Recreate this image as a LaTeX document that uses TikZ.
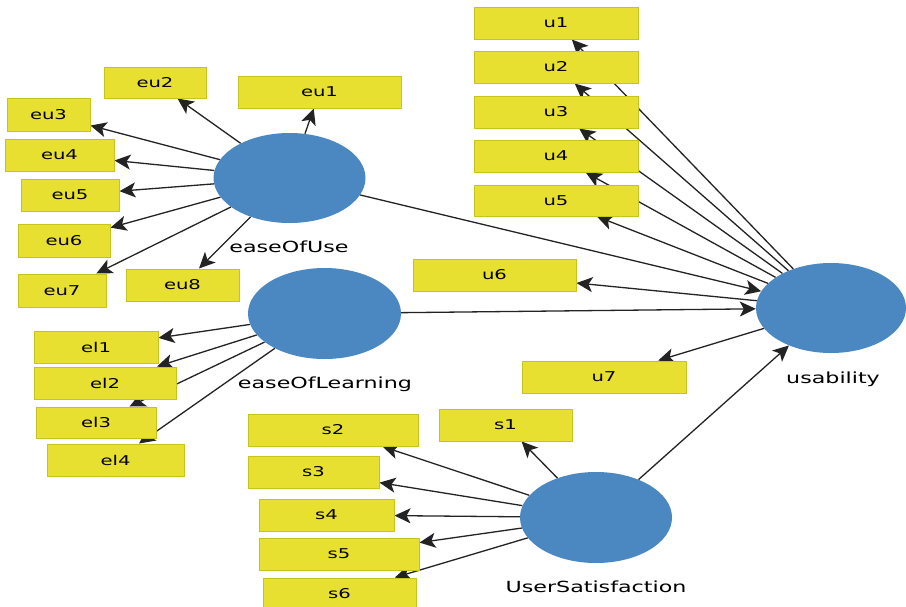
\documentclass[tikz,border=0pt]{standalone}
\usepackage{fontspec}
\usetikzlibrary{arrows.meta,shapes.geometric,backgrounds}
\newfontfamily\lblfont[FakeStretch=1.45]{DejaVu Sans}
\definecolor{boxfill}{RGB}{232,224,48}
\definecolor{boxline}{RGB}{200,196,30}
\definecolor{latfill}{RGB}{75,135,192}
\definecolor{linkcol}{RGB}{35,35,35}
\tikzset{
  ind/.style={rectangle, fill=boxfill, draw=boxline, line width=1pt,
    inner sep=0pt, minimum height=32pt,
    font=\lblfont\fontsize{13.5}{16}\selectfont, text=black},
  latent/.style={ellipse, fill=latfill, draw=none, inner sep=0pt},
  latlabel/.style={anchor=base, inner sep=0pt,
    font=\lblfont\fontsize{15.3}{18}\selectfont, text=black},
  link/.style={draw=linkcol, line width=1.3pt,
    -{Stealth[length=16pt,width=15pt,inset=4pt]}},
}
\begin{document}
\begin{tikzpicture}[x=1pt,y=-1pt]
\clip (0,0) rectangle (906,606);

% latent variables
\node[latent, minimum width=152pt, minimum height=90pt] (eou) at (289.5,178) {};
\node[latent, minimum width=153pt, minimum height=91pt] (eol) at (324.5,313.5) {};
\node[latent, minimum width=150pt, minimum height=90pt] (usab) at (831,308) {};
\node[latent, minimum width=152pt, minimum height=91pt] (usat) at (596,517.5) {};

\node[latlabel] (eoulbl) at (289,252) {easeOfUse};
\node[latlabel] (eollbl) at (325,388) {easeOfLearning};
\node[latlabel] (usablbl) at (833,383) {usability};
\node[latlabel] (usatlbl) at (596,592) {UserSatisfaction};

% indicators of easeOfUse
\node[ind, minimum width=163pt] (eu1) at (319.5,92) {eu1};
\node[ind, minimum width=102pt, minimum height=31pt] (eu2) at (155,82.5) {eu2};
\node[ind, minimum width=83pt, minimum height=33pt] (eu3) at (48.5,114.5) {eu3};
\node[ind, minimum width=109pt] (eu4) at (59.5,155) {eu4};
\node[ind, minimum width=98pt] (eu5) at (70,195) {eu5};
\node[ind, minimum width=92pt, minimum height=33pt] (eu6) at (64,240.5) {eu6};
\node[ind, minimum width=88pt, minimum height=33pt] (eu7) at (62,290.5) {eu7};
\node[ind, minimum width=113pt] (eu8) at (182.5,285) {eu8};

% indicators of usability
\node[ind, minimum width=164pt] (u1) at (556,23) {u1};
\node[ind, minimum width=164pt] (u2) at (556,67) {u2};
\node[ind, minimum width=164pt] (u3) at (556,112) {u3};
\node[ind, minimum width=164pt] (u4) at (556,156) {u4};
\node[ind, minimum width=164pt, minimum height=31pt] (u5) at (556,200.5) {u5};
\node[ind, minimum width=163pt] (u6) at (494.5,275) {u6};
\node[ind, minimum width=164pt] (u7) at (604,377) {u7};

% indicators of easeOfLearning
\node[ind, minimum width=124pt] (el1) at (96,347) {el1};
\node[ind, minimum width=142pt] (el2) at (105,383) {el2};
\node[ind, minimum width=120pt, minimum height=31pt] (el3) at (96,422.5) {el3};
\node[ind, minimum width=137pt] (el4) at (115.5,460) {el4};

% indicators of UserSatisfaction
\node[ind, minimum width=133pt] (s1) at (505.5,425) {s1};
\node[ind, minimum width=170pt] (s2) at (333,430) {s2};
\node[ind, minimum width=131pt] (s3) at (313.5,472) {s3};
\node[ind, minimum width=135pt] (s4) at (326.5,515) {s4};
\node[ind, minimum width=160pt] (s5) at (339,554) {s5};
\node[ind, minimum width=153pt] (s6) at (339.5,594) {s6};

% white page and connectors, kept behind the boxes
\begin{scope}[on background layer]
  \fill[white] (0,0) rectangle (906,606);
  \foreach \i in {1,...,8} \draw[link] (eou) -- (eu\i);
  \foreach \i in {1,...,7} \draw[link] (usab) -- (u\i);
  \foreach \i in {1,...,4} \draw[link] (eol) -- (el\i);
  \foreach \i in {1,...,6} \draw[link] (usat) -- (s\i);
  \draw[link] (eou) -- (usab);
  \draw[link] (eol) -- (usab);
  \draw[link] (usat) -- (usab);
\end{scope}
\end{tikzpicture}
\end{document}
